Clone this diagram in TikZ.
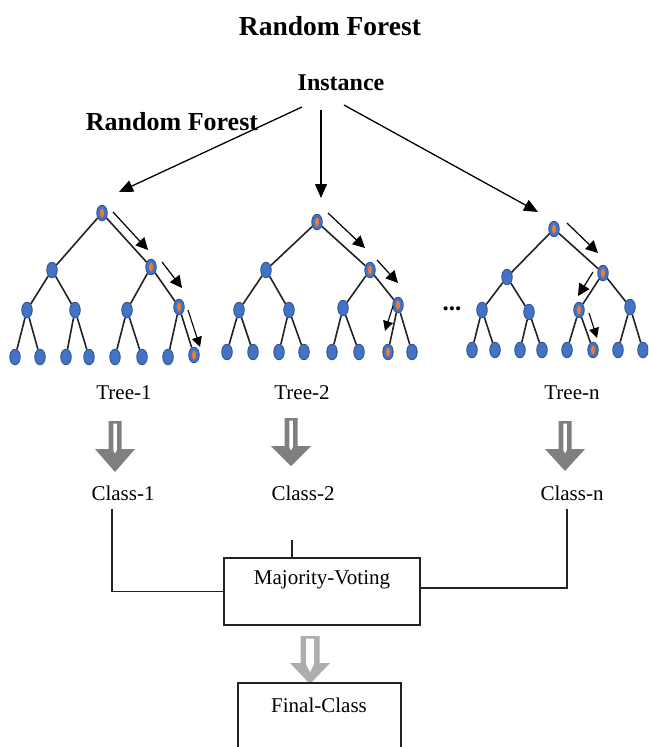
\documentclass[tikz,border=0pt]{standalone}
\usepackage{fontspec}
\setmainfont{Liberation Serif}
\usetikzlibrary{shapes.geometric,arrows.meta,calc}

\definecolor{nodeblue}{HTML}{4472C4}
\definecolor{nodeedge}{HTML}{2F5597}
\definecolor{hotcore}{HTML}{ED7D31}
\definecolor{blockgray}{HTML}{7F7F7F}
\definecolor{lightblock}{HTML}{ADADAD}
\definecolor{inkline}{HTML}{222222}

% block arrow pointing down with a white slit in its shaft:
% x, top, head start, tip, shaft width, head width, colour, slit width
\newcommand\blockdown[8]{%
  \fill[#7] (#1-#5/2,#2) -- (#1+#5/2,#2) -- (#1+#5/2,#3) -- (#1+#6/2,#3) -- (#1,#4)
    -- (#1-#6/2,#3) -- (#1-#5/2,#3) -- cycle;
  \fill[white] (#1-#8/2,#2+2.5) -- (#1+#8/2,#2+2.5) -- (#1+#8/2,#3+1)
    -- (#1,#3+1+#8) -- (#1-#8/2,#3+1) -- cycle;}

\tikzset{
  treenode/.style={ellipse, draw=nodeedge, line width=0.9pt, fill=nodeblue,
    minimum width=10.5pt, minimum height=15.5pt, inner sep=0pt},
  hotnode/.style={treenode, path picture={\fill[hotcore]
    (path picture bounding box.center) ellipse (2pt and 4.5pt);}},
  branch/.style={draw=inkline, line width=1.6pt},
  walk/.style={draw=black, line width=1.2pt, -{Triangle[length=12pt,width=12pt]}},
  smallwalk/.style={draw=black, line width=1.1pt, -{Triangle[length=10pt,width=10pt]}},
  feed/.style={draw=black, line width=1.3pt, -{Triangle[length=14pt,width=12pt]}},
  lbl/.style={font=\fontsize{21}{25}\selectfont, inner sep=0pt},
  heading/.style={font=\bfseries\fontsize{27}{32}\selectfont, inner sep=0pt},
  votebox/.style={draw=inkline, line width=1.5pt, rectangle, inner sep=0pt},
  joinline/.style={draw=inkline, line width=1.4pt},
}

\begin{document}
\begin{tikzpicture}[x=1pt, y=-1pt]
\useasboundingbox (0,0) rectangle (648,747);
\clip (0,0) rectangle (648,747);

% headings
\node[heading, font=\bfseries\fontsize{27.5}{32}\selectfont] (title) at (330,26) {Random Forest};
\node[heading, font=\bfseries\fontsize{26}{31}\selectfont] (subtitle) at (172,122) {Random Forest};
\node[heading, font=\bfseries\fontsize{24}{29}\selectfont] (inst) at (341,83) {Instance};

% instance fans out to the trees
\coordinate (fromL) at (302,107);
\coordinate (toL) at (119,192);
\coordinate (fromM) at (321,110);
\coordinate (toM) at (321,198);
\coordinate (fromR) at (344,105);
\coordinate (toR) at (538,212);
\draw[feed] (fromL) -- (toL);
\draw[feed] (fromM) -- (toM);
\draw[feed] (fromR) -- (toR);

% tree 1
\foreach \n/\x/\y/\s in {r/102/213/hotnode, a/52/270/treenode, b/151/267/hotnode,
  c/27/310/treenode, d/75/310/treenode, e/127/310/treenode, f/179/307/hotnode,
  g/15/357/treenode, h/40/357/treenode, i/66/357/treenode, j/89/357/treenode,
  k/115/357/treenode, l/142/357/treenode, m/168/357/treenode, n/194/355/hotnode}
  \node[\s] (t1\n) at (\x,\y) {};

% tree 2
\foreach \n/\x/\y/\s in {r/317/222/hotnode, a/266/270/treenode, b/370/270/hotnode,
  c/239/310/treenode, d/289/310/treenode, e/343/308/treenode, f/398/305/hotnode,
  g/227/352/treenode, h/253/352/treenode, i/279/352/treenode, j/304/352/treenode,
  k/332/352/treenode, l/359/352/treenode, m/388/352/hotnode, n/412/352/treenode}
  \node[\s] (t2\n) at (\x,\y) {};

% tree n
\foreach \n/\x/\y/\s in {r/554/229/hotnode, a/507/277/treenode, b/603/273/hotnode,
  c/482/310/treenode, d/529/312/treenode, e/579/310/hotnode, f/630/307/treenode,
  g/472/350/treenode, h/495/350/treenode, i/520/350/treenode, j/542/350/treenode,
  k/567/350/treenode, l/593/350/hotnode, m/618/350/treenode, n/643/350/treenode}
  \node[\s] (tn\n) at (\x,\y) {};

\foreach \t in {1,2,n}{
  \foreach \p/\c in {r/a, r/b, a/c, a/d, b/e, b/f, c/g, c/h, d/i, d/j,
                     e/k, e/l, f/m, f/n}
    \draw[branch] (t\t\p) -- (t\t\c);
}

\node[lbl, font=\bfseries\fontsize{25}{28}\selectfont] (dots) at (452,309) {...};

% decision paths
\draw[walk] (113,212) -- (148,250);
\draw[walk] (162,262) -- (182,288);
\draw[smallwalk] (188,310) -- (200,347);
\draw[walk] (328,213) -- (365,248);
\draw[walk] (377,260) -- (398,283);
\draw[smallwalk] (393,306) -- (385,331);
\draw[walk] (567,223) -- (598,253);
\draw[walk] (593,272) -- (578,296);
\draw[smallwalk] (589,313) -- (597,338);

% tree labels
\node[lbl] (tree1) at (124,393) {Tree-1};
\node[lbl] (tree2) at (302,393) {Tree-2};
\node[lbl] (treen) at (572,393) {Tree-n};

% block arrows
\blockdown{115}{421}{449}{472}{13}{40}{blockgray}{3.5}
\blockdown{291}{418}{446}{466}{13}{40}{blockgray}{3.5}
\blockdown{565}{421}{449}{471}{13}{40}{blockgray}{3.5}

% class labels
\node[lbl] (c1) at (123,493) {Class-1};
\node[lbl] (c2) at (303,493) {Class-2};
\node[lbl] (cn) at (572,493) {Class-n};

% voting
\node[votebox, minimum width=196pt, minimum height=67pt] (mv) at (322,591.5) {};
\node[lbl] (mvtext) at (322,580) {Majority-Voting};

\coordinate (c2foot) at (292,540);
\draw[joinline] ([shift={(-11pt,-8pt)}]c1.south) |- (mv.west);
\draw[joinline] (c2foot) -- (c2foot |- mv.north);
\draw[joinline] ([shift={(-5pt,-8pt)}]cn.south) |- ([yshift=3.5pt]mv.east);

\blockdown{310}{636}{663}{684}{19}{40}{lightblock}{8}

% final class
\node[votebox, minimum width=163pt, minimum height=90pt] (fc) at (319.5,728) {};
\node[lbl] (fctext) at (319,705) {Final-Class};
\end{tikzpicture}
\end{document}
